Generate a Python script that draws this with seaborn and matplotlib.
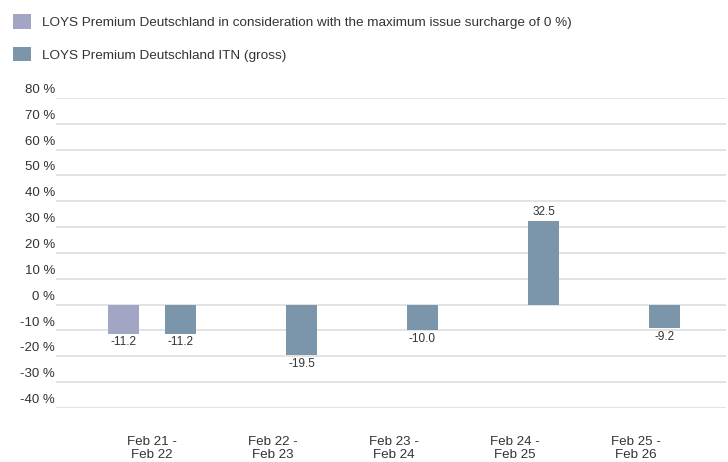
import numpy as np
import pandas as pd
import seaborn as sns
import matplotlib.pyplot as plt
import matplotlib.transforms as mtransforms

periods = ["Feb 21 -\nFeb 22", "Feb 22 -\nFeb 23", "Feb 23 -\nFeb 24",
           "Feb 24 -\nFeb 25", "Feb 25 -\nFeb 26"]
series_names = ["LOYS Premium Deutschland in consideration with the maximum issue surcharge of 0 %)",
                "LOYS Premium Deutschland ITN (gross)"]
surcharge_vals = [-11.2, np.nan, np.nan, np.nan, np.nan]
itn_gross_vals = [-11.2, -19.5, -10.0, 32.5, -9.2]
y_ticks = [80, 70, 60, 50, 40, 30, 20, 10, 0, -10, -20, -30, -40]
colors = ["#a3a5c4", "#7b96ab"]

df = pd.DataFrame({"period": periods, series_names[0]: surcharge_vals,
                   series_names[1]: itn_gross_vals})
df = df.melt(id_vars="period", var_name="series", value_name="value").dropna()

sns.set_theme(style="white")
plt.rcParams["font.family"] = ["Liberation Sans", "DejaVu Sans"]
text_col = "#333333"

fig = plt.figure(figsize=(7.28, 4.62), dpi=100)
ax = fig.add_axes([56 / 728, 1 - 408 / 462, 670 / 728, 310 / 462])

sns.barplot(data=df, x="period", y="value", hue="series", order=periods,
            hue_order=series_names, palette=colors, width=0.943, gap=0.457,
            saturation=1, linewidth=0, ax=ax, legend=True)

for cont in ax.containers:
    ax.bar_label(cont, fmt="%.1f", padding=2, fontsize=8.5, color=text_col)

ax.set_xlim(-0.793, 4.744)
ax.set_ylim(-40, 80)
ax.set_yticks(y_ticks)
ax.set_yticklabels([])
ax.tick_params(axis="y", length=0)
ax.grid(axis="y", color="#e0e0e0", linewidth=1.3)
ax.set_axisbelow(True)
for s in ax.spines.values():
    s.set_visible(False)

trans = mtransforms.offset_copy(ax.get_yaxis_transform(), fig=fig, x=-1, y=5, units="dots")
for v in y_ticks:
    ax.text(0, v, f"{v} %", transform=trans, ha="right", va="baseline",
            fontsize=9.5, color=text_col)

ax.tick_params(axis="x", length=0, pad=20.5, labelsize=9.6, labelcolor=text_col)
for lbl in ax.get_xticklabels():
    lbl.set_linespacing(1.1)
ax.set_xlabel("")
ax.set_ylabel("")

handles, labels = ax.get_legend_handles_labels()
ax.get_legend().remove()
for h in handles:
    h.set_linewidth(0)
fig.legend(handles, labels, loc="upper left", bbox_to_anchor=(8 / 728, 1 - 9 / 462),
           frameon=False, fontsize=9.7, handlelength=1.3, handleheight=1.3,
           handletextpad=0.8, labelspacing=1.3, labelcolor=text_col, borderaxespad=0)

fig.savefig("out.png", dpi=100)
